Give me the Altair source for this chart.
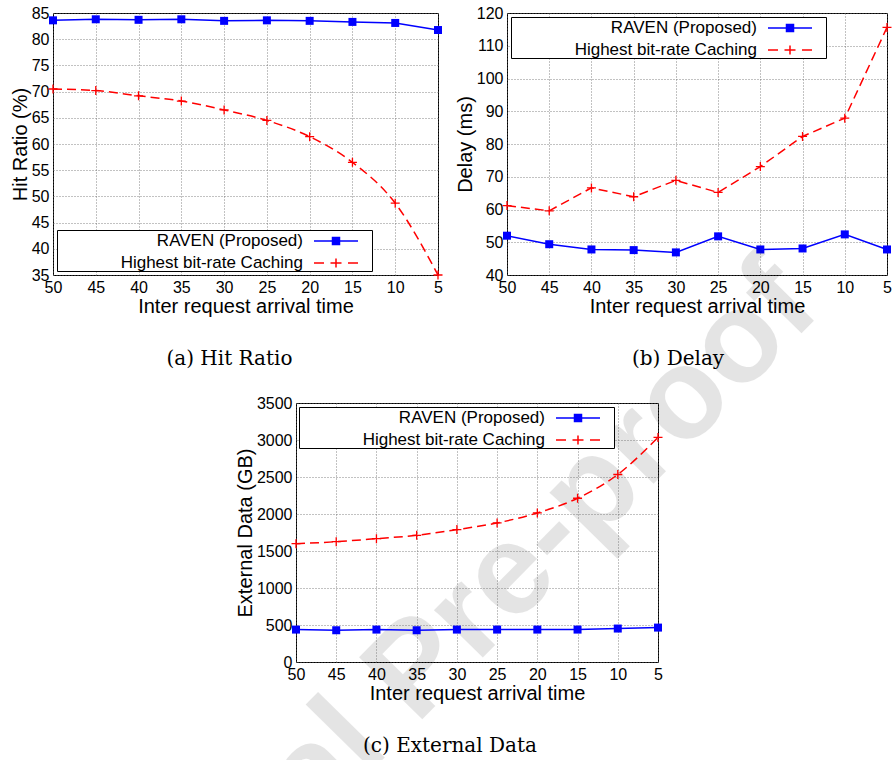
import altair as alt
import pandas as pd

# ---------------- data ----------------
x_vals = [50, 45, 40, 35, 30, 25, 20, 15, 10, 5]
series_names = ["RAVEN (Proposed)", "Highest bit-rate Caching"]

hit_raven = [83.6, 83.8, 83.7, 83.8, 83.5, 83.6, 83.5, 83.3, 83.1, 81.75]
hit_hbc = [70.5, 70.2, 69.2, 68.2, 66.5, 64.5, 61.4, 56.5, 48.7, 35.0]

delay_raven = [52.0, 49.4, 47.8, 47.6, 46.9, 51.8, 47.8, 48.1, 52.4, 47.8]
delay_hbc = [61.2, 59.6, 66.6, 63.9, 68.9, 65.2, 73.1, 82.3, 87.9, 115.6]

ext_raven = [438, 429, 438, 429, 438, 438, 438, 438, 452, 465]
ext_hbc = [1599, 1626, 1667, 1712, 1789, 1879, 2014, 2213, 2534, 3035]

hit_ticks = [35, 40, 45, 50, 55, 60, 65, 70, 75, 80, 85]
delay_ticks = [40, 50, 60, 70, 80, 90, 100, 110, 120]
ext_ticks = [0, 500, 1000, 1500, 2000, 2500, 3000, 3500]

x_title = "Inter request arrival time"
y_titles = ["Hit Ratio (%)", "Delay (ms)", "External Data (GB)"]
captions = ["(a) Hit Ratio", "(b) Delay", "(c) External Data"]
watermark_text = ["Journal Pre-proof"]

# ---------------- styles ----------------
BLUE = "#0000ff"
RED = "#ff0000"
FONT = "Liberation Sans"
PLUS = "M-1,0L1,0M0,-1L0,1"
# legend samples (unit = 10 px)
LEG_BLUE = "M-2.2,0L2.2,0M-0.35,-0.35L0.35,-0.35L0.35,0.35L-0.35,0.35ZM3.3,0L3.3,0"
LEG_RED = ("M-2.2,0L-1.2,0M-0.55,0L0.55,0M1.2,0L2.2,0M0,-0.45L0,0.45"
           "M3.3,0L3.3,0")


def make_df(raven, hbc):
    rows = []
    for s, vals in zip(series_names, [raven, hbc]):
        for x, v in zip(x_vals, vals):
            rows.append({"x": x, "y": v, "series": s})
    return pd.DataFrame(rows)


def panel(raven, hbc, y_title, y_dom, y_ticks, red_interp, caption, cap_dx,
          leg_x, leg_y, width, height):
    df = make_df(raven, hbc)
    x_enc = alt.X("x:Q",
                  scale=alt.Scale(domain=[5, 50], reverse=True, nice=False, zero=False),
                  axis=alt.Axis(values=x_vals, format="d", title=x_title, grid=True,
                                labelFlush=False, labelOverlap=False))
    y_enc = alt.Y("y:Q",
                  scale=alt.Scale(domain=y_dom, nice=False, zero=False),
                  axis=alt.Axis(values=y_ticks, format="d", title=y_title, grid=True,
                                labelFlush=False, labelOverlap=False))
    base = alt.Chart(df).encode(x=x_enc, y=y_enc)
    blue = base.transform_filter(alt.datum.series == series_names[0])
    red = base.transform_filter(alt.datum.series == series_names[1])
    legend = alt.Legend(
        title=None, orient="none", legendX=leg_x, legendY=leg_y, direction="vertical",
        symbolSize=400, symbolStrokeWidth=1.5, symbolOffset=268,
        labelOffset=alt.ExprRef(expr="-44"),
        labelAlign="right", labelBaseline="middle", labelFont=FONT, labelFontSize=17,
        labelColor="black", labelLimit=400, rowPadding=3, padding=0,
        fillColor="white", strokeColor="black", cornerRadius=0, symbolOpacity=1,
    )
    legend_layer = alt.Chart(df).mark_point(clip=True, filled=False, opacity=1).encode(
        x=alt.value(-5000), y=alt.value(-5000),
        shape=alt.Shape("series:N",
                        scale=alt.Scale(domain=series_names, range=[LEG_BLUE, LEG_RED]),
                        legend=legend),
        fill=alt.Fill("series:N",
                      scale=alt.Scale(domain=series_names, range=[BLUE, "transparent"]),
                      legend=legend),
        stroke=alt.Stroke("series:N",
                          scale=alt.Scale(domain=series_names, range=[BLUE, RED]),
                          legend=legend),
    )
    layers = [
        blue.mark_line(color=BLUE, strokeWidth=1.5),
        red.mark_line(color=RED, strokeWidth=1.5, strokeDash=[9, 5], interpolate=red_interp),
        blue.mark_point(shape="square", filled=True, size=64, color=BLUE, opacity=1),
        red.mark_point(shape=PLUS, filled=False, size=81, color=RED, strokeWidth=1.3, opacity=1),
        legend_layer,
    ]
    return alt.layer(*layers).properties(
        width=width, height=height,
        title=alt.TitleParams(caption, orient="bottom", anchor="middle", font="DejaVu Serif",
                              fontSize=20, fontWeight="normal", color="black",
                              offset=33, dx=cap_dx),
    )


def independent(ch):
    return ch.resolve_scale(shape="independent", fill="independent", stroke="independent") \
             .resolve_legend(shape="independent", fill="independent", stroke="independent")


pa = panel(hit_raven, hit_hbc, y_titles[0], [35, 85], hit_ticks, "monotone",
           captions[0], -16, 4, 217, 385, 262)
pb = panel(delay_raven, delay_hbc, y_titles[1], [40, 120], delay_ticks, "linear",
           captions[1], -19, 4, 4, 380, 262)
pc = panel(ext_raven, ext_hbc, y_titles[2], [0, 3500], ext_ticks, "monotone",
           captions[2], -27, 3, 4, 362, 259)

# spacer cell that also carries the translucent "Journal Pre-proof" watermark
spacer = alt.Chart(pd.DataFrame({"t": watermark_text})).mark_text(
    font=FONT, fontSize=129, fontWeight="bold", color="#000000", opacity=0.1, angle=314.5,
    align="center", baseline="middle"
).encode(text="t:N", x=alt.value(363), y=alt.value(267)).properties(
    width=243, height=10, view=alt.ViewBackground(stroke="transparent")
)

top = independent(alt.hconcat(pa, pb, spacing=69, bounds="flush"))
bottom = independent(alt.hconcat(spacer, pc, spacing=0, bounds="flush"))

chart = independent(alt.vconcat(top, bottom, spacing=390, bounds="flush")).properties(
    padding={"left": 53, "top": 13, "right": 841, "bottom": 747},
    autosize=alt.AutoSizeParams(type="none"),
    background="white",
).configure_view(
    stroke="black", strokeWidth=1
).configure_axis(
    labelFont=FONT, labelFontSize=16, labelColor="black", labelPadding=4,
    titleFont=FONT, titleFontSize=20, titleFontWeight="normal", titleColor="black",
    titlePadding=1, gridColor="#666666", gridDash=[1, 2], gridWidth=0.8,
    domain=False, ticks=False, tickSize=0,
)

chart.save("out.html", embed_options={"renderer": "svg", "actions": False})
